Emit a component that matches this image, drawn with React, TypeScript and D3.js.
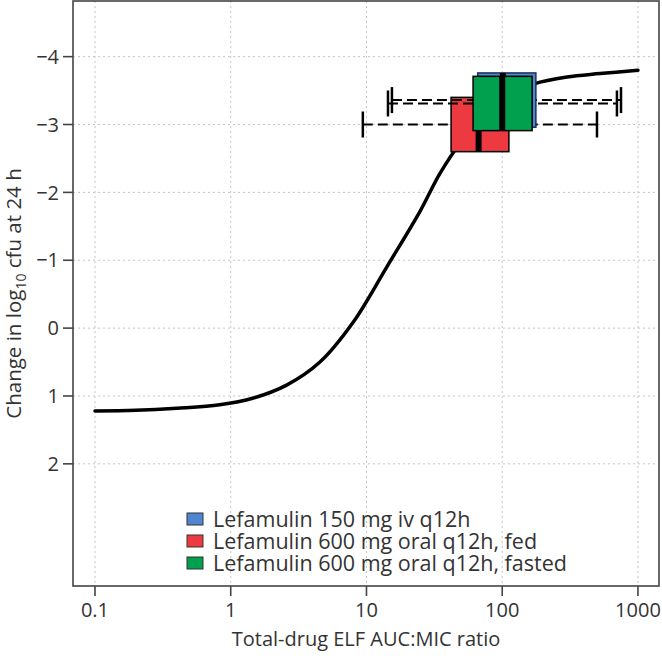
import React from "react";
import * as d3 from "d3";

// ---- data ----
const curveX = [0.1, 0.2, 0.4, 0.83, 1.47, 2.58, 4.54, 8.0, 14.1, 24.8, 34.8, 50, 80, 120, 172, 300, 525, 1000];
const curveY = [1.22, 1.21, 1.18, 1.13, 1.03, 0.84, 0.5, -0.09, -0.9, -1.72, -2.28, -2.75, -3.22, -3.46, -3.6, -3.7, -3.75, -3.8];

const seriesNames = [
  "Lefamulin 150 mg iv q12h",
  "Lefamulin 600 mg oral q12h, fed",
  "Lefamulin 600 mg oral q12h, fasted",
];
const seriesColors = ["#4f86cf", "#ec3a40", "#00a04e"];
const whiskerLow = [15.4, 9.4, 14.4];
const q1 = [66, 42, 61];
const median = [101, 67, 100];
const q3 = [177, 112, 166];
const whiskerHigh = [750, 499, 700];
const yCenter = [-3.36, -3.0, -3.31];
const drawOrder = [1, 0, 2];

const xTicks = [0.1, 1, 10, 100, 1000];
const xTickLabels = ["0.1", "1", "10", "100", "1000"];
const yTicks = [-4, -3, -2, -1, 0, 1, 2];
const yTickLabels = ["\u22124", "\u22123", "\u22122", "\u22121", "0", "1", "2"];

// ---- layout ----
const W = 662, H = 656;
const L = 73, T = 1, R = 659, B = 586;
const FONT = "'Open Sans', sans-serif";
const TXT = "#333";

export default function App() {
  const x = d3.scaleLog().domain([Math.pow(10, -1.162), Math.pow(10, 3.155)]).range([L, R]);
  const y = d3.scaleLinear().domain([-4.82, 3.8]).range([T, B]);
  const halfBox = 0.4;
  const capH = 13;

  const line = d3
    .line<number>()
    .x((_, i) => x(curveX[i]))
    .y((d) => y(d))
    .curve(d3.curveCatmullRom.alpha(0.5));

  return (
    <svg width={W} height={H} style={{ position: "absolute", left: 0, top: 0, background: "#fff" }} fontFamily={FONT}>
      {/* grid */}
      {xTicks.map((t) => (
        <line key={"gx" + t} x1={x(t)} x2={x(t)} y1={T} y2={B} stroke="#c4c4c4" strokeWidth={1} strokeDasharray="2,3" />
      ))}
      {yTicks.map((t) => (
        <line key={"gy" + t} x1={L} x2={R} y1={y(t)} y2={y(t)} stroke="#c4c4c4" strokeWidth={1} strokeDasharray="2,3" />
      ))}

      {/* curve */}
      <path d={line(curveY) || ""} fill="none" stroke="#000" strokeWidth={3.5} strokeLinecap="round" />

      {/* boxes */}
      {drawOrder.map((i) => {
        const yc = y(yCenter[i]);
        const yt = y(yCenter[i] - halfBox);
        const yb = y(yCenter[i] + halfBox);
        return (
          <g key={"b" + i}>
            <line x1={x(whiskerLow[i])} x2={x(whiskerHigh[i])} y1={yc} y2={yc} stroke="#000" strokeWidth={2} strokeDasharray="10,5" />
            <line x1={x(whiskerLow[i])} x2={x(whiskerLow[i])} y1={yc - capH} y2={yc + capH} stroke="#000" strokeWidth={2.5} />
            <line x1={x(whiskerHigh[i])} x2={x(whiskerHigh[i])} y1={yc - capH} y2={yc + capH} stroke="#000" strokeWidth={2.5} />
            <rect x={x(q1[i])} y={yt} width={x(q3[i]) - x(q1[i])} height={yb - yt} fill={seriesColors[i]} stroke={i === 0 ? "#1c2f55" : "#000"} strokeWidth={1.5} />
            <line x1={x(median[i])} x2={x(median[i])} y1={yt} y2={yb} stroke="#000" strokeWidth={6} />
          </g>
        );
      })}

      {/* frame */}
      <rect x={L} y={T} width={R - L} height={B - T} fill="none" stroke="#444" strokeWidth={1.6} />

      {/* x axis */}
      {xTicks.map((t, i) => (
        <g key={"xt" + t}>
          <line x1={x(t)} x2={x(t)} y1={B} y2={B + 10} stroke="#444" strokeWidth={1.6} />
          <text x={x(t)} y={617} textAnchor="middle" fontSize={20} fill={TXT}>{xTickLabels[i]}</text>
        </g>
      ))}
      <text x={(L + R) / 2} y={646} textAnchor="middle" fontSize={20} fill={TXT}>Total-drug ELF AUC:MIC ratio</text>

      {/* y axis */}
      {yTicks.map((t, i) => (
        <g key={"yt" + t}>
          <line x1={L - 10} x2={L} y1={y(t)} y2={y(t)} stroke="#444" strokeWidth={1.6} />
          <text x={59} y={y(t)} dy="0.36em" textAnchor="end" fontSize={20} fill={TXT}>{yTickLabels[i]}</text>
        </g>
      ))}
      <text transform={`translate(21,${(T + B) / 2}) rotate(-90)`} textAnchor="middle" fontSize={20.5} fill={TXT}>
        Change in log<tspan fontSize={14} dy="5">10</tspan><tspan dy="-5"> cfu at 24 h</tspan>
      </text>

      {/* legend */}
      {[0, 1, 2].map((i) => {
        const cy = 519 + i * 22;
        return (
          <g key={"lg" + i}>
            <rect x={187} y={cy - 6} width={16} height={12} fill={seriesColors[i]} stroke="#333" strokeWidth={1} />
            <text x={213} y={cy} dy="0.36em" fontSize={21.5} fill={TXT}>{seriesNames[i]}</text>
          </g>
        );
      })}
    </svg>
  );
}
